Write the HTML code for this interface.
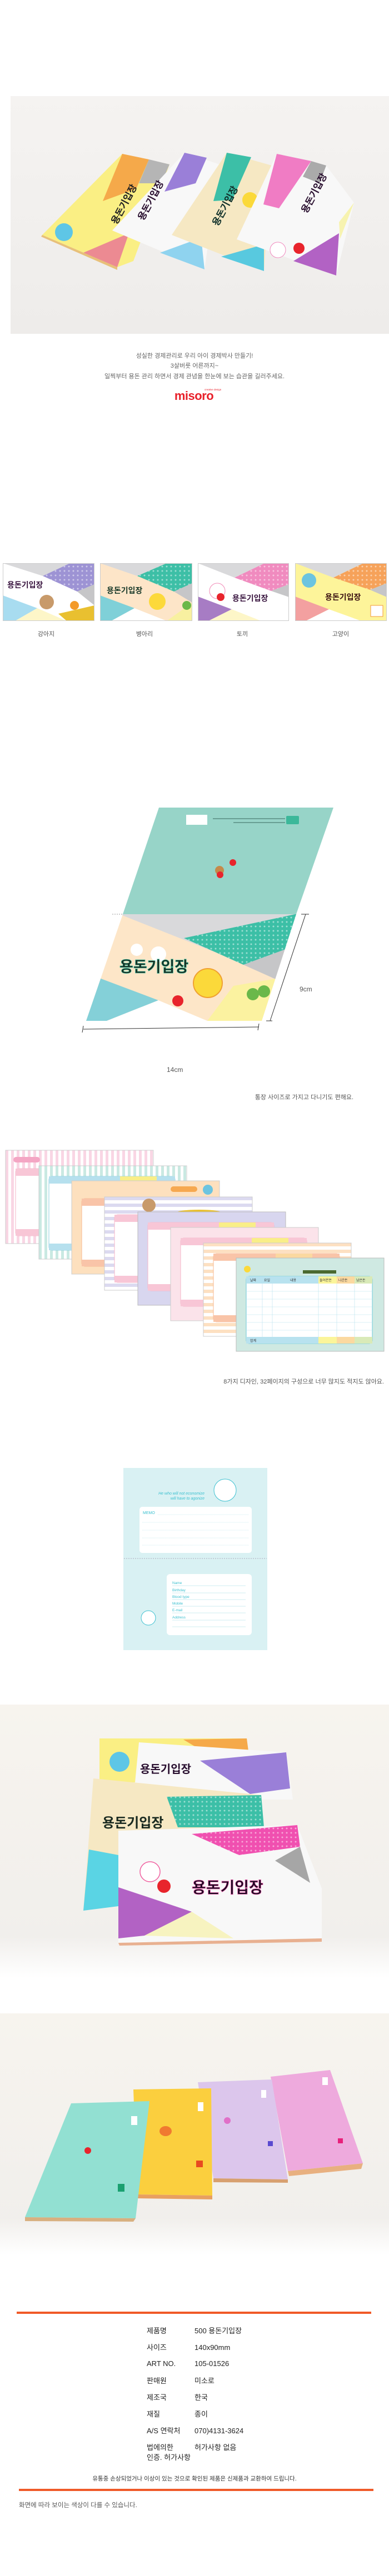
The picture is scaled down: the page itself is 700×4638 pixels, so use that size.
<!DOCTYPE html>
<html><head><meta charset="utf-8"><style>
html,body{margin:0;padding:0;background:#fff;}
svg{display:block;}
text{font-family:"Liberation Sans","Noto Sans CJK KR",sans-serif;}
</style></head><body>
<svg width="700" height="4638" viewBox="0 0 700 4638" xmlns="http://www.w3.org/2000/svg">
<defs>
<pattern id="dotP" width="8" height="8" patternUnits="userSpaceOnUse"><circle cx="4" cy="4" r="1.5" fill="#fff" opacity="0.5"/></pattern>
<pattern id="vPink" width="10" height="10" patternUnits="userSpaceOnUse"><rect width="10" height="10" fill="#fff"/><rect width="5" height="10" fill="#f9d6e4"/></pattern>
<pattern id="vMint" width="10" height="10" patternUnits="userSpaceOnUse"><rect width="10" height="10" fill="#fff"/><rect width="5" height="10" fill="#c9e9e2"/></pattern>
<pattern id="hLav" width="10" height="12" patternUnits="userSpaceOnUse"><rect width="10" height="12" fill="#fff"/><rect width="10" height="6" fill="#dcdaf0"/></pattern>
<pattern id="hPeach" width="10" height="12" patternUnits="userSpaceOnUse"><rect width="10" height="12" fill="#fff"/><rect width="10" height="6" fill="#fde0c2"/></pattern>
<linearGradient id="ph1" x1="0" y1="0" x2="0" y2="1"><stop offset="0" stop-color="#f5f3f1"/><stop offset="1" stop-color="#eeecea"/></linearGradient>
<linearGradient id="ph3" x1="0" y1="0" x2="0" y2="1"><stop offset="0" stop-color="#f7f4ee"/><stop offset="0.85" stop-color="#f1efec"/><stop offset="1" stop-color="#fff"/></linearGradient>
<clipPath id="cov"><polygon points="221,1646 533,1646 471,1838 155,1838"/></clipPath>
<clipPath id="t1"><rect x="5" y="1014" width="165" height="104"/></clipPath>
<clipPath id="t2"><rect x="180" y="1014" width="166" height="104"/></clipPath>
<clipPath id="t3"><rect x="356" y="1014" width="164" height="104"/></clipPath>
<clipPath id="t4"><rect x="531" y="1014" width="165" height="104"/></clipPath>
</defs>

<!-- PHOTO 1 -->
<rect x="19" y="173" width="681" height="428" fill="url(#ph1)"/>
<polygon points="220,277 305,296 240,470 211,481 76,423" fill="#faef84"/>
<polygon points="220,277 268,287 245,340 185,362" fill="#f5a94a"/>
<polygon points="268,287 305,296 290,330 250,330" fill="#b5b5b5"/>
<polygon points="150,455 232,420 211,481" fill="#ec8a92"/>
<polygon points="76,423 211,481 211,486 74,426" fill="#e8c07a"/>
<circle cx="115" cy="418" r="16" fill="#5ec6e6"/>
<text transform="translate(210,405) rotate(-62)" font-size="17" font-weight="bold" fill="#222">용돈기입장</text>
<polygon points="332,275 395,296 368,485 202,415" fill="#f8f8f8"/>
<polygon points="332,275 372,284 352,330 296,345" fill="#9a7fd8"/>
<polygon points="288,455 362,428 368,485" fill="#8fd3ef"/>
<text transform="translate(258,398) rotate(-62)" font-size="17" font-weight="bold" fill="#2a1030">용돈기입장</text>
<polygon points="408,275 489,298 475,488 309,423" fill="#f6e8c3"/>
<polygon points="408,275 452,283 418,360 384,362" fill="#3cbfa7"/>
<polygon points="398,462 475,440 475,488" fill="#58c9df"/>
<circle cx="450" cy="360" r="14" fill="#fbd93a"/>
<text transform="translate(392,408) rotate(-62)" font-size="17" font-weight="bold" fill="#10302a">용돈기입장</text>
<polygon points="498,277 587,298 637,365 605,496 426,431" fill="#f8f8f8"/>
<polygon points="498,277 560,290 502,375 474,368" fill="#f07cc4"/>
<polygon points="560,290 587,298 575,330 545,318" fill="#aaa"/>
<polygon points="528,470 610,420 605,496" fill="#b262c4"/>
<polygon points="610,400 637,365 612,430" fill="#f7f3b0"/>
<circle cx="500" cy="450" r="14" fill="#fff" stroke="#f08bbf"/>
<circle cx="538" cy="447" r="10" fill="#e8242c"/>
<text transform="translate(552,385) rotate(-62)" font-size="17" font-weight="bold" fill="#2a1030">용돈기입장</text>

<!-- intro text -->
<g font-size="11" fill="#666" text-anchor="middle">
<text x="350" y="644">성실한 경제관리로 우리 아이 경제박사 만들기!</text>
<text x="350" y="662">3살버릇 어른까지~</text>
<text x="350" y="681">일찍부터 용돈 관리 하면서 경제 관념을 한눈에 보는 습관을 길러주세요.</text>
</g>
<text x="349" y="720" font-size="22" font-weight="bold" fill="#e8202a" text-anchor="middle" letter-spacing="-0.5">misoro</text>
<text x="368" y="703" font-size="4.5" fill="#e8202a">creative design</text>

<!-- Thumbnails -->
<g clip-path="url(#t1)">
<rect x="5" y="1014" width="165" height="104" fill="#fff"/>
<polygon points="5,1014 126,1014 77,1037" fill="#d9d9db"/>
<polygon points="77,1037 126,1014 170,1014 170,1052 139,1065" fill="#9d93d4"/>
<polygon points="77,1037 126,1014 170,1014 170,1052 139,1065" fill="url(#dotP)"/>
<polygon points="139,1065 170,1052 170,1090" fill="#c6c6c8"/>
<polygon points="5,1072 67,1095 27,1118 5,1118" fill="#a8dcf0"/>
<polygon points="27,1118 67,1095 120,1118" fill="#fdf6c8"/>
<polygon points="105,1105 170,1090 170,1118 120,1118" fill="#e9c030"/>
<circle cx="84" cy="1084" r="13" fill="#c89a6a"/>
<circle cx="134" cy="1090" r="8" fill="#f39a2a"/>
<text x="13" y="1058" font-size="14" font-weight="bold" fill="#3a1640">용돈기입장</text>
</g>
<rect x="5.5" y="1014.5" width="164" height="103" fill="none" stroke="#ccc"/>
<g clip-path="url(#t2)">
<rect x="180" y="1014" width="166" height="104" fill="#fde5c8"/>
<polygon points="180,1014 300,1014 247,1037" fill="#d9d9db"/>
<polygon points="247,1037 300,1014 346,1014 346,1050 313,1065" fill="#3dbfa6"/>
<polygon points="247,1037 300,1014 346,1014 346,1050 313,1065" fill="url(#dotP)"/>
<polygon points="313,1065 346,1050 346,1085" fill="#c6c6c8"/>
<polygon points="180,1072 242,1095 200,1118 180,1118" fill="#7fd0d8"/>
<polygon points="200,1118 242,1095 300,1118" fill="#fff"/>
<polygon points="300,1118 346,1085 346,1118" fill="#f8f0a0"/>
<circle cx="283" cy="1083" r="15" fill="#fcd93a"/>
<circle cx="336" cy="1090" r="8" fill="#6ab84a"/>
<text x="192" y="1068" font-size="14" font-weight="bold" fill="#1a3a2a">용돈기입장</text>
</g>
<rect x="180.5" y="1014.5" width="165" height="103" fill="none" stroke="#ccc"/>
<g clip-path="url(#t3)">
<rect x="356" y="1014" width="164" height="104" fill="#fff"/>
<polygon points="356,1014 476,1014 422,1040" fill="#d9d9db"/>
<polygon points="422,1040 476,1014 520,1014 520,1052 488,1064" fill="#f08bbf"/>
<polygon points="422,1040 476,1014 520,1014 520,1052 488,1064" fill="url(#dotP)"/>
<polygon points="488,1064 520,1052 520,1075" fill="#c6c6c8"/>
<polygon points="356,1074 417,1097 375,1118 356,1118" fill="#a77cc4"/>
<polygon points="375,1118 417,1097 470,1118" fill="#fdf6c8"/>
<circle cx="391" cy="1064" r="14" fill="#fff" stroke="#f28bb8"/>
<circle cx="397" cy="1075" r="7" fill="#e8242c"/>
<text x="418" y="1082" font-size="14" font-weight="bold" fill="#3a1640">용돈기입장</text>
</g>
<rect x="356.5" y="1014.5" width="163" height="103" fill="none" stroke="#ccc"/>
<g clip-path="url(#t4)">
<rect x="531" y="1014" width="165" height="104" fill="#fdf49a"/>
<polygon points="531,1014 654,1014 600,1040" fill="#d9d9db"/>
<polygon points="600,1040 654,1014 696,1014 696,1050 666,1062" fill="#f6a25a"/>
<polygon points="600,1040 654,1014 696,1014 696,1050 666,1062" fill="url(#dotP)"/>
<polygon points="666,1062 696,1050 696,1075" fill="#c6c6c8"/>
<polygon points="531,1074 592,1097 550,1118 531,1118" fill="#f3a0a0"/>
<polygon points="550,1118 592,1097 650,1118" fill="#fff"/>
<circle cx="556" cy="1045" r="13" fill="#6cc4e0"/>
<rect x="667" y="1090" width="22" height="20" fill="#fff" stroke="#f39a3a"/>
<text x="585" y="1080" font-size="14" font-weight="bold" fill="#3a1010">용돈기입장</text>
</g>
<rect x="531.5" y="1014.5" width="164" height="103" fill="none" stroke="#ccc"/>
<g font-size="11" fill="#555" text-anchor="middle">
<text x="83" y="1145">강아지</text><text x="260" y="1145">병아리</text><text x="436" y="1145">토끼</text><text x="613" y="1145">고양이</text>
</g>

<!-- Diagram -->
<polygon points="286,1454 600,1454 533,1646 221,1646" fill="#97d4c8"/>
<rect x="335" y="1467" width="38" height="18" fill="#fff"/>
<rect x="515" y="1469" width="23" height="15" rx="2" fill="#3cb89a"/>
<rect x="383" y="1473" width="130" height="2" fill="#4a7a70" opacity="0.6"/>
<rect x="420" y="1480" width="93" height="2" fill="#4a7a70" opacity="0.6"/>
<circle cx="395" cy="1567" r="8" fill="#c58a4a"/><circle cx="396" cy="1575" r="6" fill="#e8242c"/><circle cx="419" cy="1553" r="6" fill="#e8242c"/>
<g clip-path="url(#cov)">
<rect x="150" y="1646" width="390" height="192" fill="#fde6c8"/>
<polygon points="215,1646 540,1646 540,1775" fill="#d9d9db"/>
<polygon points="331,1689 531,1646 540,1646 517,1708 438,1737" fill="#3cbfa6"/>
<polygon points="331,1689 531,1646 540,1646 517,1708 438,1737" fill="url(#dotP)"/>
<polygon points="438,1737 517,1708 540,1700 540,1775 496,1763" fill="#c6c6c8"/>
<polygon points="150,1750 285,1801 192,1838 150,1838" fill="#84d0d8"/>
<polygon points="192,1838 285,1801 373,1838" fill="#fff"/>
<polygon points="373,1838 420,1775 496,1762 496,1838" fill="#fbf2a0"/>
</g>
<circle cx="374" cy="1770" r="26" fill="#fbd93a" stroke="#f0a030" stroke-width="2"/>
<circle cx="320" cy="1802" r="10" fill="#e8242c"/>
<circle cx="455" cy="1790" r="11" fill="#6ab84a"/><circle cx="475" cy="1785" r="11" fill="#6ab84a"/>
<circle cx="246" cy="1710" r="11" fill="#fff"/><circle cx="285" cy="1718" r="14" fill="#fff"/>
<text x="215" y="1750" font-size="27" font-weight="bold" fill="#1a2a20" stroke="#2fb89a" stroke-width="0.8">용돈기입장</text>
<line x1="202" y1="1646" x2="221" y2="1646" stroke="#999" stroke-dasharray="2,2"/>
<g stroke="#333" stroke-width="1" fill="none">
<line x1="550" y1="1646" x2="486" y2="1838"/>
<line x1="542" y1="1646" x2="556" y2="1646"/><line x1="479" y1="1838" x2="490" y2="1838"/>
<line x1="150" y1="1853" x2="466" y2="1849"/>
<line x1="150" y1="1847" x2="148" y2="1859"/><line x1="466" y1="1843" x2="464" y2="1855"/>
</g>
<text x="539" y="1785" font-size="12" fill="#555">9cm</text>
<text x="300" y="1930" font-size="12" fill="#555">14cm</text>
<text x="636" y="1979" font-size="11" fill="#555" text-anchor="end">통장 사이즈로 가지고 다니기도 편해요.</text>

<!-- Pages -->
<g id="cards">
<g transform="translate(10,2071)"><rect width="266" height="168" fill="url(#vPink)" stroke="#ccc"/><rect x="18" y="33" width="227" height="121" rx="6" fill="#fff" stroke="#f4b4c8"/><rect x="18" y="33" width="227" height="13" fill="#f8c6d6"/><rect x="18" y="142" width="227" height="12" fill="#f8c6d6"/><rect x="14" y="12" width="48" height="10" rx="5" fill="#f4a6c4"/></g>
<g transform="translate(70,2099)"><rect width="266" height="168" fill="url(#vMint)" stroke="#ccc"/><rect x="18" y="19" width="227" height="133" rx="6" fill="#fff" stroke="#8cd0dc"/><rect x="18" y="19" width="227" height="13" fill="#b6e0ee"/><rect x="146" y="19" width="66" height="13" fill="#f9ee88"/><rect x="18" y="140" width="227" height="12" fill="#b6e0ee"/></g>
<g transform="translate(129,2126)"><rect width="266" height="168" fill="#fde0be" stroke="#ccc"/><rect x="18" y="32" width="227" height="122" rx="6" fill="#fff" stroke="#f8b890"/><rect x="18" y="32" width="227" height="13" fill="#f9c4a8"/><rect x="18" y="142" width="227" height="12" fill="#f9c4a8"/><rect x="178" y="10" width="48" height="10" rx="5" fill="#f6a850"/><circle cx="245" cy="16" r="9" fill="#6cc4e0"/></g>
<g transform="translate(188,2155)"><rect width="266" height="168" fill="url(#hLav)" stroke="#ccc"/><rect x="18" y="32" width="227" height="122" rx="6" fill="#fff" stroke="#f4b4c8"/><rect x="18" y="32" width="227" height="13" fill="#f8c6d6"/><rect x="18" y="142" width="227" height="12" fill="#f8c6d6"/><circle cx="80" cy="15" r="12" fill="#c89a6a"/><ellipse cx="170" cy="28" rx="40" ry="5" fill="#e9c030"/></g>
<g transform="translate(248,2182)"><rect width="266" height="168" fill="#d8d6ef" stroke="#bbb"/><rect x="18" y="19" width="227" height="123" rx="6" fill="#fff" stroke="#f4b4c8"/><rect x="18" y="19" width="227" height="13" fill="#f8c6d6"/><rect x="146" y="19" width="66" height="13" fill="#f9ee88"/><rect x="18" y="130" width="227" height="12" fill="#f8c6d6"/></g>
<g transform="translate(307,2210)"><rect width="266" height="168" fill="#fbe3ea" stroke="#ccc"/><rect x="18" y="19" width="227" height="123" rx="6" fill="#fff" stroke="#f4b4c8"/><rect x="18" y="19" width="227" height="13" fill="#f8c6d6"/><rect x="146" y="19" width="66" height="13" fill="#f9ee88"/><rect x="18" y="130" width="227" height="12" fill="#f8c6d6"/></g>
<g transform="translate(366,2238)"><rect width="266" height="168" fill="url(#hPeach)" stroke="#ccc"/><rect x="18" y="19" width="227" height="123" rx="6" fill="#fff" stroke="#f8b890"/><rect x="18" y="19" width="227" height="13" fill="#f9c4a8"/><rect x="130" y="19" width="66" height="13" fill="#fbd8a0"/><rect x="18" y="130" width="227" height="12" fill="#f9c4a8"/></g>
<g transform="translate(425,2265)"><rect width="266" height="168" fill="#cfe9e2" stroke="#bbb"/>
<rect x="18" y="33" width="227" height="121" rx="6" fill="#fff" stroke="#6ccad8"/>
<rect x="18" y="33" width="227" height="13" fill="#b8e2ef"/><rect x="148" y="33" width="33" height="13" fill="#fbf59a"/><rect x="181" y="33" width="32" height="13" fill="#fbd9a0"/><rect x="213" y="33" width="32" height="13" fill="#d9eab8"/>
<rect x="18" y="142" width="227" height="12" fill="#b8e2ef"/><rect x="148" y="142" width="33" height="12" fill="#fbf59a"/><rect x="181" y="142" width="32" height="12" fill="#fbd9a0"/><rect x="213" y="142" width="32" height="12" fill="#d9eab8"/>
<g stroke="#b8e2ef" stroke-width="0.6"><line x1="47" y1="46" x2="47" y2="142"/><line x1="65" y1="46" x2="65" y2="142"/><line x1="148" y1="46" x2="148" y2="142"/><line x1="181" y1="46" x2="181" y2="142"/><line x1="213" y1="46" x2="213" y2="142"/>
<line x1="18" y1="60" x2="245" y2="60"/><line x1="18" y1="74" x2="245" y2="74"/><line x1="18" y1="88" x2="245" y2="88"/><line x1="18" y1="102" x2="245" y2="102"/><line x1="18" y1="116" x2="245" y2="116"/><line x1="18" y1="130" x2="245" y2="130"/></g>
<g font-size="6" fill="#333"><text x="25" y="42">날짜</text><text x="50" y="42">요일</text><text x="97" y="42">내용</text><text x="150" y="42">들어온돈</text><text x="184" y="42">나간돈</text><text x="216" y="42">남은돈</text><text x="25" y="151">합계</text></g>
<rect x="120" y="22" width="60" height="6" fill="#4a6a30"/><circle cx="20" cy="20" r="6" fill="#fbd93a"/></g>
</g>
<text x="691" y="2491" font-size="11" fill="#555" text-anchor="end">8가지 디자인, 32페이지의 구성으로 너무 많지도 적지도 않아요.</text>

<!-- Booklet -->
<rect x="222" y="2643" width="259" height="328" fill="#d9f1f3"/>
<g font-family="Liberation Serif,serif" font-style="italic" font-size="7" fill="#3cc0d0" text-anchor="end"><text x="368" y="2691">He who will not economize</text><text x="368" y="2700">will have to agonize</text></g>
<circle cx="405" cy="2683" r="20" fill="#fff" stroke="#3cc0d0"/>
<rect x="251" y="2713" width="202" height="83" rx="5" fill="#fff"/>
<text x="257" y="2726" font-size="7" fill="#3cc0d0">MEMO</text>
<g stroke="#9fdde5" stroke-dasharray="1,1" stroke-width="0.6"><line x1="284" y1="2727" x2="447" y2="2727"/><line x1="256" y1="2741" x2="447" y2="2741"/><line x1="256" y1="2755" x2="447" y2="2755"/><line x1="256" y1="2769" x2="447" y2="2769"/><line x1="256" y1="2782" x2="447" y2="2782"/></g>
<line x1="223" y1="2806" x2="480" y2="2806" stroke="#aab" stroke-dasharray="2,2"/>
<rect x="300" y="2834" width="153" height="110" rx="6" fill="#fff"/>
<g font-size="6.5" fill="#3cc0d0"><text x="310" y="2852">Name</text><text x="310" y="2865">Birthday</text><text x="310" y="2877">Blood type</text><text x="310" y="2889">Mobile</text><text x="310" y="2901">E-mail</text><text x="310" y="2914">Address</text></g>
<g stroke="#9fdde5" stroke-width="0.5"><line x1="310" y1="2855" x2="442" y2="2855"/><line x1="310" y1="2868" x2="442" y2="2868"/><line x1="310" y1="2880" x2="442" y2="2880"/><line x1="310" y1="2892" x2="442" y2="2892"/><line x1="310" y1="2904" x2="442" y2="2904"/><line x1="310" y1="2917" x2="442" y2="2917"/><line x1="310" y1="2929" x2="442" y2="2929"/></g>
<circle cx="267" cy="2913" r="13" fill="#fff" stroke="#3cc0d0"/>

<!-- PHOTO 2 -->
<rect x="0" y="3069" width="700" height="492" fill="url(#ph3)"/>
<polygon points="179,3130 444,3130 450,3190 179,3215" fill="#faef84"/>
<polygon points="330,3132 444,3130 448,3160 360,3150" fill="#f5a94a"/>
<circle cx="215" cy="3172" r="18" fill="#5ec6e6"/>
<polygon points="250,3137 515,3155 527,3240 240,3240" fill="#f8f8f8"/>
<polygon points="360,3170 515,3155 522,3220 450,3230" fill="#9a7fd8"/>
<text x="252" y="3192" font-size="20" font-weight="bold" fill="#2a1030">용돈기입장</text>
<polygon points="168,3202 470,3232 475,3300 213,3310 213,3430 150,3440" fill="#f6e8c3"/>
<polygon points="300,3235 470,3232 475,3290 320,3290" fill="#3cbfa7"/>
<polygon points="300,3235 470,3232 475,3290 320,3290" fill="url(#dotP)"/>
<polygon points="160,3330 213,3340 213,3432 150,3440" fill="#5ad4e4"/>
<text x="184" y="3290" font-size="24" font-weight="bold" fill="#1a2a20">용돈기입장</text>
<polygon points="213,3296 535,3286 579,3400 579,3490 213,3498" fill="#f8f8f8"/>
<polygon points="345,3302 535,3286 540,3325 430,3340" fill="#f050b0"/>
<polygon points="345,3302 535,3286 540,3325 430,3340" fill="url(#dotP)"/>
<polygon points="495,3350 540,3325 558,3390" fill="#a6a6a6"/>
<polygon points="213,3398 345,3442 260,3485 213,3490" fill="#b262c4"/>
<polygon points="260,3485 345,3442 420,3490" fill="#f7f3c0"/>
<polygon points="213,3498 579,3490 579,3496 215,3503" fill="#e8b090"/>
<circle cx="270" cy="3370" r="18" fill="#fff" stroke="#f060a0" stroke-width="1.5"/>
<circle cx="295" cy="3396" r="12" fill="#e8242c"/>
<text x="345" y="3408" font-size="28" font-weight="bold" fill="#1a0a20" stroke="#f060b0" stroke-width="0.8">용돈기입장</text>

<!-- PHOTO 3 -->
<rect x="0" y="3625" width="700" height="435" fill="url(#ph3)"/>
<polygon points="487,3739 594,3727 653,3895 518,3909" fill="#eeaadd"/>
<polygon points="518,3909 653,3895 650,3905 520,3918" fill="#e8b080"/>
<rect x="580" y="3740" width="10" height="14" fill="#fff"/>
<rect x="608" y="3850" width="9" height="9" fill="#e8207a"/>
<polygon points="356,3749 489,3744 518,3924 384,3922" fill="#dcc6ec"/>
<polygon points="384,3922 518,3924 518,3930 384,3929" fill="#d8a070"/>
<rect x="470" y="3763" width="9" height="14" fill="#fff"/>
<rect x="482" y="3855" width="9" height="9" fill="#5a4ad0"/>
<circle cx="409" cy="3818" r="6" fill="#e070c8"/>
<polygon points="240,3762 380,3760 382,3953 247,3951" fill="#fbcf3e"/>
<polygon points="247,3951 382,3953 382,3960 247,3958" fill="#e8a060"/>
<rect x="356" y="3785" width="10" height="16" fill="#fff"/>
<rect x="353" y="3890" width="12" height="12" fill="#e84a20"/>
<ellipse cx="298" cy="3837" rx="11" ry="9" fill="#f07a30"/>
<polygon points="128,3787 269,3783 244,3994 45,3992" fill="#92e0d2"/>
<polygon points="45,3992 244,3994 240,4000 45,3999" fill="#d8b080"/>
<rect x="236" y="3810" width="11" height="16" fill="#fff"/>
<rect x="212" y="3932" width="12" height="14" fill="#1aa070"/>
<circle cx="158" cy="3872" r="6" fill="#e8242c"/>

<!-- Spec table -->
<rect x="30" y="4162" width="638" height="4" fill="#f05a28"/>
<g font-size="13" fill="#222">
<text x="264" y="4201">제품명</text><text x="350" y="4201">500 용돈기입장</text>
<text x="264" y="4231">사이즈</text><text x="350" y="4231">140x90mm</text>
<text x="264" y="4260">ART NO.</text><text x="350" y="4260">105-01526</text>
<text x="264" y="4291">판매원</text><text x="350" y="4291">미소로</text>
<text x="264" y="4321">제조국</text><text x="350" y="4321">한국</text>
<text x="264" y="4351">재질</text><text x="350" y="4351">종이</text>
<text x="264" y="4381">A/S 연락처</text><text x="350" y="4381">070)4131-3624</text>
<text x="264" y="4411">법에의한</text><text x="350" y="4411">허가사항 없음</text>
<text x="264" y="4429">인증. 허가사항</text>
</g>
<text x="350" y="4466" font-size="10.5" fill="#333" text-anchor="middle">유통중 손상되었거나 이상이 있는 것으로 확인된 제품은 신제품과 교환하여 드립니다.</text>
<rect x="34" y="4481" width="638" height="4" fill="#f05a28"/>
<text x="34" y="4514" font-size="11.5" fill="#555">화면에 따라 보이는 색상이 다를 수 있습니다.</text>
</svg>
</body></html>
